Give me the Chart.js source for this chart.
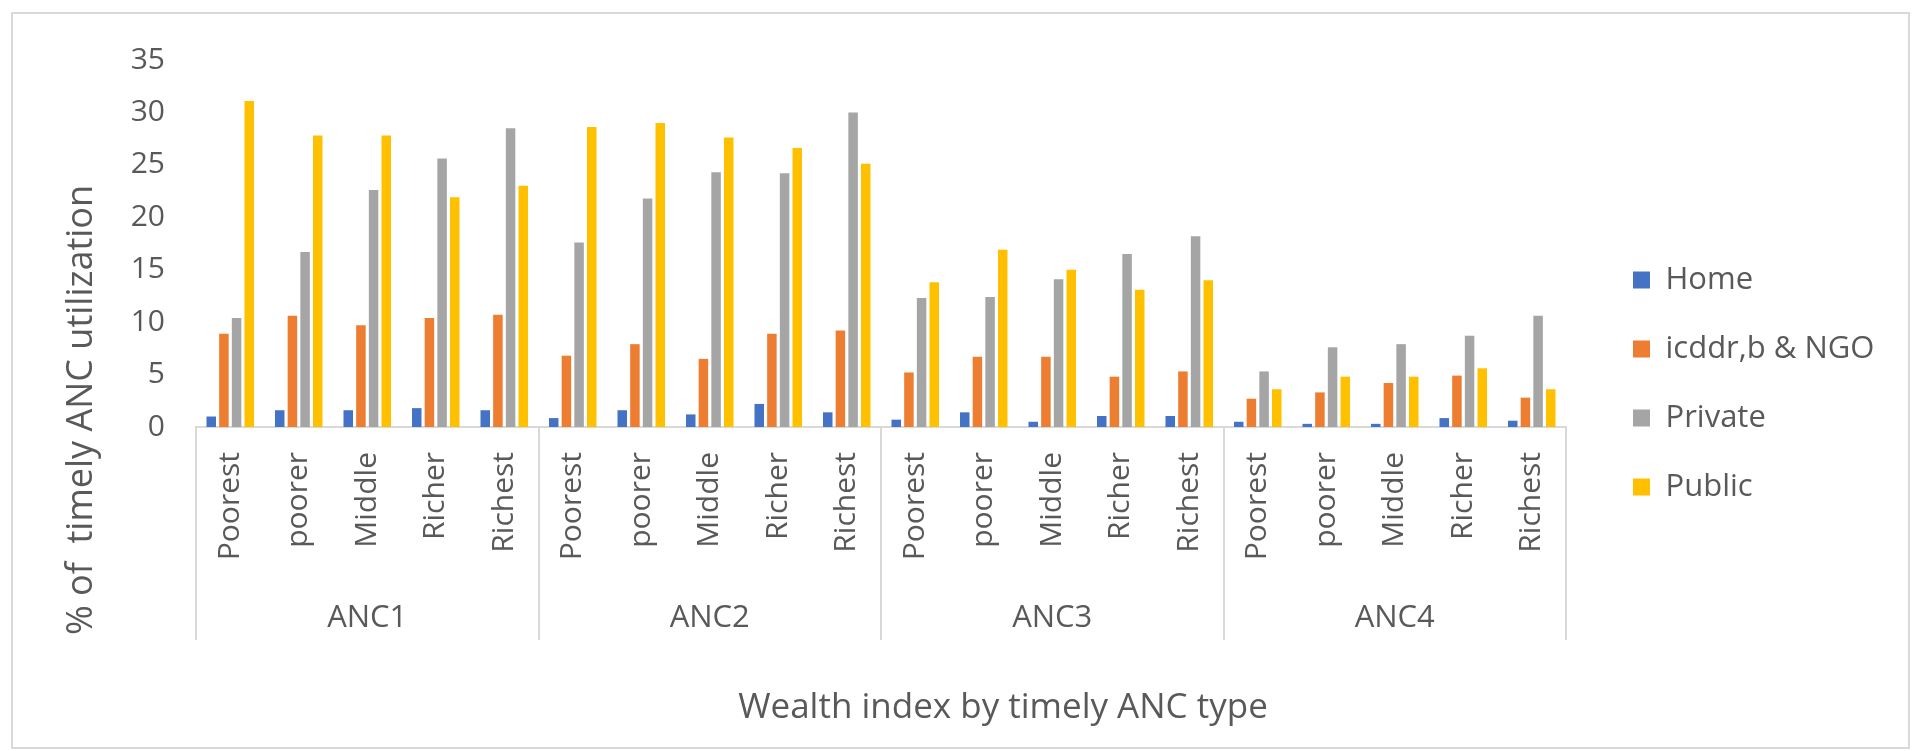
<!DOCTYPE html>
<html>
<head>
<meta charset="utf-8">
<title>Timely ANC utilization by wealth index</title>
<script src="https://cdn.jsdelivr.net/npm/chart.js@4.4.1/dist/chart.umd.min.js"></script>
<style>
  html, body { margin: 0; padding: 0; background: #fff; overflow: hidden; }
  #frame { position: absolute; left: 11px; top: 12px; width: 1899px; height: 737px; border: 2px solid #d9d9d9; box-sizing: border-box; }
  #wrap { position: absolute; left: 0; top: 0; width: 1912px; height: 751px; }
</style>
</head>
<body>
<div id="frame"></div>
<div id="wrap"><canvas id="chart"></canvas></div>
<script>
const WEALTH = ['Poorest', 'poorer', 'Middle', 'Richer', 'Richest'];
const GROUPS = ['ANC1', 'ANC2', 'ANC3', 'ANC4'];
const CATEGORIES = GROUPS.flatMap(() => WEALTH);
const Y_TICKS = [0, 5, 10, 15, 20, 25, 30, 35];

const HOME    = [1.0, 1.6, 1.6, 1.8, 1.6,   0.85, 1.6, 1.2, 2.2, 1.4,   0.7, 1.4, 0.5, 1.05, 1.05,  0.5, 0.3, 0.3, 0.85, 0.6];
const NGO     = [8.9, 10.6, 9.7, 10.4, 10.7, 6.8, 7.9, 6.5, 8.9, 9.2,   5.2, 6.7, 6.7, 4.8, 5.3,    2.7, 3.3, 4.2, 4.9, 2.8];
const PRIVATE = [10.4, 16.7, 22.6, 25.6, 28.5, 17.6, 21.8, 24.3, 24.2, 30.0, 12.3, 12.4, 14.1, 16.5, 18.2, 5.3, 7.6, 7.9, 8.7, 10.6];
const PUBLIC  = [31.1, 27.8, 27.8, 21.9, 23.0, 28.6, 29.0, 27.6, 26.6, 25.1, 13.8, 16.9, 15.0, 13.1, 14.0, 3.6, 4.8, 4.8, 5.6, 3.6];

const SERIES = [
  { label: 'Home', data: HOME, color: '#4472c4' },
  { label: 'icddr,b & NGO', data: NGO, color: '#ed7d31' },
  { label: 'Private', data: PRIVATE, color: '#a5a5a5' },
  { label: 'Public', data: PUBLIC, color: '#ffc000' }
];

const TEXT = '#595959';
const LINE = '#d9d9d9';
const FONT = '"Open Sans", "DejaVu Sans", sans-serif';

// group separators and the two axis titles
const extras = {
  id: 'extras',
  afterDraw(chart) {
    const { ctx, chartArea } = chart;
    const x2 = chart.scales.x2;
    const step = (x2.right - x2.left) / GROUPS.length;
    ctx.save();
    ctx.strokeStyle = LINE;
    ctx.lineWidth = 2;
    for (let i = 0; i <= GROUPS.length; i++) {
      const px = Math.round(x2.left + i * step);
      ctx.beginPath();
      ctx.moveTo(px, chartArea.bottom);
      ctx.lineTo(px, x2.top + 63);
      ctx.stroke();
    }
    ctx.fillStyle = TEXT;
    ctx.textAlign = 'center';
    ctx.textBaseline = 'middle';
    ctx.font = '35px ' + FONT;
    ctx.fillText('Wealth index by timely ANC type', 1003, 708);
    ctx.translate(82, 410);
    ctx.rotate(-Math.PI / 2);
    ctx.font = '36px ' + FONT;
    ctx.fillText('% of  timely ANC utilization', 0, 0);
    ctx.restore();
  }
};

new Chart(document.getElementById('chart'), {
  type: 'bar',
  data: {
    labels: CATEGORIES,
    datasets: SERIES.map(s => ({
      label: s.label,
      data: s.data,
      backgroundColor: s.color,
      borderWidth: 0,
      xAxisID: 'x',
      yAxisID: 'y',
      categoryPercentage: 0.74,
      barPercentage: 0.75
    }))
  },
  options: {
    responsive: true,
    maintainAspectRatio: false,
    animation: false,
    layout: { padding: { left: 0, top: 60, right: 32, bottom: 44 } },
    plugins: {
      legend: {
        position: 'right',
        maxWidth: 285,
        labels: {
          boxWidth: 17,
          boxHeight: 17,
          padding: 38,
          color: TEXT,
          font: { family: FONT, size: 31 }
        }
      },
      tooltip: { enabled: false }
    },
    scales: {
      x: {
        type: 'category',
        position: 'bottom',
        offset: true,
        grid: { display: false, drawTicks: false },
        border: { display: true, color: LINE, width: 2 },
        ticks: {
          autoSkip: false,
          minRotation: 90,
          maxRotation: 90,
          padding: 25,
          color: TEXT,
          font: { family: FONT, size: 30 }
        },
        afterFit: s => { s.height = 150; }
      },
      x2: {
        type: 'category',
        position: 'bottom',
        labels: GROUPS,
        offset: true,
        grid: { display: false, drawTicks: false },
        border: { display: false },
        ticks: {
          padding: 23,
          color: TEXT,
          font: { family: FONT, size: 31 }
        },
        afterFit: s => { s.height = 130; }
      },
      y: {
        position: 'left',
        min: 0,
        max: 35,
        grid: { display: false, drawTicks: false },
        border: { display: false },
        afterBuildTicks: s => { s.ticks = Y_TICKS.map(v => ({ value: v })); },
        ticks: {
          padding: 31,
          color: TEXT,
          font: { family: FONT, size: 30 }
        },
        afterFit: s => { s.width = 196; }
      },
      yR: {
        type: 'linear',
        position: 'right',
        grid: { display: false, drawTicks: false },
        border: { display: false },
        ticks: { display: false },
        afterFit: s => { s.width = 29; }
      }
    }
  },
  plugins: [extras]
});
</script>
</body>
</html>
